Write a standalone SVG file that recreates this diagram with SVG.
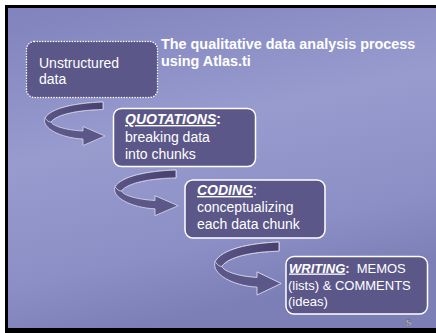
<svg xmlns="http://www.w3.org/2000/svg" width="436" height="333" viewBox="0 0 436 333">
<defs>
<linearGradient id="bg" x1="0" y1="0" x2="0.3" y2="1">
<stop offset="0" stop-color="#8083BC"/>
<stop offset="0.45" stop-color="#989BCE"/>
<stop offset="0.8" stop-color="#8C8FC5"/>
<stop offset="1" stop-color="#7C7FB5"/>
</linearGradient>
<linearGradient id="back" x1="0" y1="0" x2="1" y2="0">
<stop offset="0" stop-color="#5A5587"/>
<stop offset="1" stop-color="#46416E"/>
</linearGradient>
<path id="arr" d="M60,0 C32,1 8,6 2,16 C-2,26 18,36 40,37 L40,43.5 L62,34 L40,24.5 L40,29 C22,28 10,24 8,20 C14,12 36,8 60,7.5 Z"/>
<path id="arrBack" d="M60,0 C32,1 8,6 2,16 C4,19 6,20 8,20 C14,12 36,8 60,7.5 Z"/>
</defs>
<style>
.box{fill:#5C5789;stroke:#FFFFFF;stroke-width:1.5}
.dot{fill:#5C5789;stroke:#FFFFFF;stroke-width:1.5;stroke-dasharray:0.1 2.6;stroke-linecap:round}
.t{font-family:"Liberation Sans",Arial,sans-serif;fill:#FFFFFF;font-size:14px}
.s{font-size:13px}
.h{font-weight:bold;font-style:italic;text-decoration:underline}
.title{font-family:"Liberation Sans",Arial,sans-serif;fill:#FFFFFF;font-size:14.4px;font-weight:bold}
.af{fill:#5C5789;stroke:#D9D9EA;stroke-width:0.8}
.ab{fill:url(#back);stroke:#D9D9EA;stroke-width:0.8}
</style>
<rect x="0" y="0" width="436" height="333" fill="#FFFFFF"/>
<rect x="5" y="5" width="431" height="328" fill="#000000"/>
<rect x="8" y="8" width="428" height="320" fill="url(#bg)"/>

<g id="connectors">
<g transform="translate(43,102)">
<use href="#arr" class="af"/>
<use href="#arrBack" class="ab"/>
</g>
<g transform="translate(113,170) scale(1.05)">
<use href="#arr" class="af"/>
<use href="#arrBack" class="ab"/>
</g>
<g transform="translate(213,242) scale(1.1,1.22)">
<use href="#arr" class="af"/>
<use href="#arrBack" class="ab"/>
</g>
</g>

<g id="title">
<text class="title" x="161" y="49">The qualitative data analysis process</text>
<text class="title" x="161" y="65.5">using Atlas.ti</text>
</g>

<g id="unstructured">
<rect class="dot" x="26.5" y="41.5" width="131" height="56" rx="8"/>
<text class="t" x="39" y="68">Unstructured</text>
<text class="t" x="39" y="84">data</text>
</g>

<g id="quotations">
<rect class="box" x="113.5" y="108.5" width="142" height="58" rx="8"/>
<text class="t" x="125" y="124"><tspan class="h">QUOTATIONS</tspan><tspan font-weight="bold">:</tspan></text>
<text class="t" x="125" y="142">breaking data</text>
<text class="t" x="125" y="159">into chunks</text>
</g>

<g id="coding">
<rect class="box" x="185" y="180" width="140" height="58" rx="8"/>
<text class="t" x="197" y="195"><tspan class="h">CODING</tspan>:</text>
<text class="t" x="197" y="211.5">conceptualizing</text>
<text class="t" x="197" y="228.5">each data chunk</text>
</g>

<g id="writing">
<rect class="box" x="286" y="256.5" width="141.5" height="57.5" rx="8"/>
<text class="t s" x="289" y="272.5"><tspan class="h">WRITING</tspan><tspan font-weight="bold">:</tspan><tspan dx="7">MEMOS</tspan></text>
<text class="t s" x="288" y="290">(lists) &amp; COMMENTS</text>
<text class="t s" x="288" y="306">(ideas)</text>
</g>

<text x="406" y="326" font-family="Liberation Sans, Arial, sans-serif" font-size="9" font-weight="bold" fill="#F0F0F4" stroke="#444" stroke-width="0.4">5</text>
</svg>
